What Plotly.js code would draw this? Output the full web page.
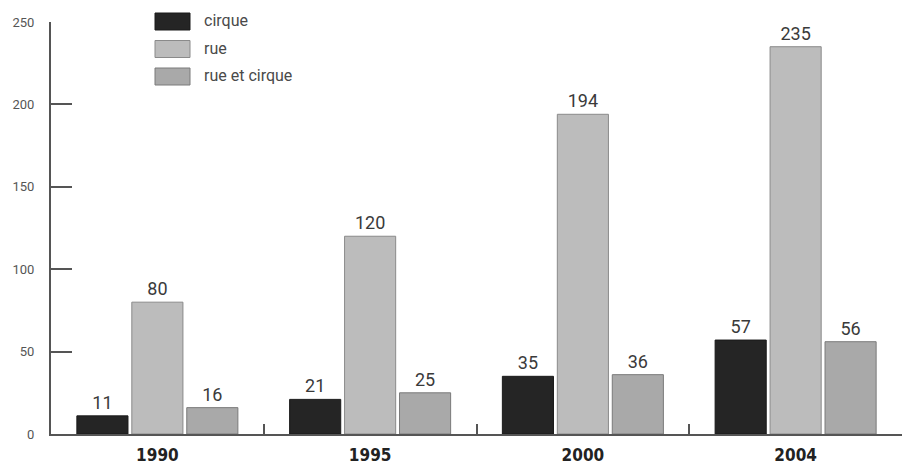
<!DOCTYPE html>
<html><head><meta charset="utf-8">
<script src="https://cdn.plot.ly/plotly-3.0.1.min.js"></script>
<style>html,body{margin:0;padding:0;background:#fff}#c{width:902px;height:469px}</style>
</head><body><div id="c"></div>
<script>
const years = ['1990', '1995', '2000', '2004'];
const seriesNames = ['cirque', 'rue', 'rue et cirque'];
const cirque = [11, 21, 35, 57];
const rue = [80, 120, 194, 235];
const rueEtCirque = [16, 25, 36, 56];
const yTicks = [0, 50, 100, 150, 200, 250];

const fills = ['#252525', '#bcbcbc', '#a9a9a9'];
const lines = ['#1a1a1a', '#8a8a8a', '#7a7a7a'];
const vals = [cirque, rue, rueEtCirque];

const traces = vals.map((v, i) => ({
  type: 'bar', x: years, y: v, name: seriesNames[i],
  marker: {color: fills[i], line: {color: lines[i], width: 1}},
  text: v.map(String), textposition: 'outside', cliponaxis: false,
  textfont: {family: 'Roboto, DejaVu Sans', size: 18, color: '#3a3a3a'},
  showlegend: false, hoverinfo: 'none'
}));

const shapes = [], annotations = [];
seriesNames.forEach((n, i) => {
  const top = 13 + i * 27.5;
  shapes.push({type: 'rect', xref: 'paper', yref: 'paper',
    x0: (155 - 51) / 851, x1: (190 - 51) / 851,
    y0: 1 - (top - 22 + 17) / 412, y1: 1 - (top - 22) / 412,
    fillcolor: fills[i], line: {color: lines[i], width: 1}});
  annotations.push({xref: 'paper', yref: 'paper', x: (202 - 51) / 851,
    y: 1 - (top - 22 + 8) / 412, xanchor: 'left', yanchor: 'middle',
    text: n, showarrow: false,
    font: {family: 'Roboto, DejaVu Sans', size: 16, color: '#4a4a4a'}});
});

const layout = {
  width: 902, height: 469,
  margin: {l: 51, r: 0, t: 22, b: 35},
  paper_bgcolor: '#fff', plot_bgcolor: '#fff',
  barmode: 'group', bargap: 0.225, bargroupgap: 0.07,
  showlegend: false,
  xaxis: {type: 'category', showline: true, linecolor: '#555', linewidth: 2,
    ticks: 'inside', tickson: 'boundaries', ticklen: 10, tickcolor: '#555', tickwidth: 2,
    showgrid: false, zeroline: false, ticklabelstandoff: 5,
    tickfont: {family: 'DejaVu Sans Condensed, DejaVu Sans', size: 17, color: '#222', weight: 'bold'}},
  yaxis: {range: [0, 250], tickvals: yTicks, ticktext: yTicks.map(String),
    showline: true, linecolor: '#555', linewidth: 2,
    ticks: 'inside', ticklen: 21, tickcolor: '#555', tickwidth: 2,
    showgrid: false, zeroline: false, ticklabelstandoff: 12,
    tickfont: {family: 'Roboto, DejaVu Sans', size: 13, color: '#555'}},
  shapes: shapes, annotations: annotations,
  font: {family: 'Roboto, DejaVu Sans'}
};

Plotly.newPlot('c', traces, layout, {displayModeBar: false, staticPlot: true});
</script></body></html>
